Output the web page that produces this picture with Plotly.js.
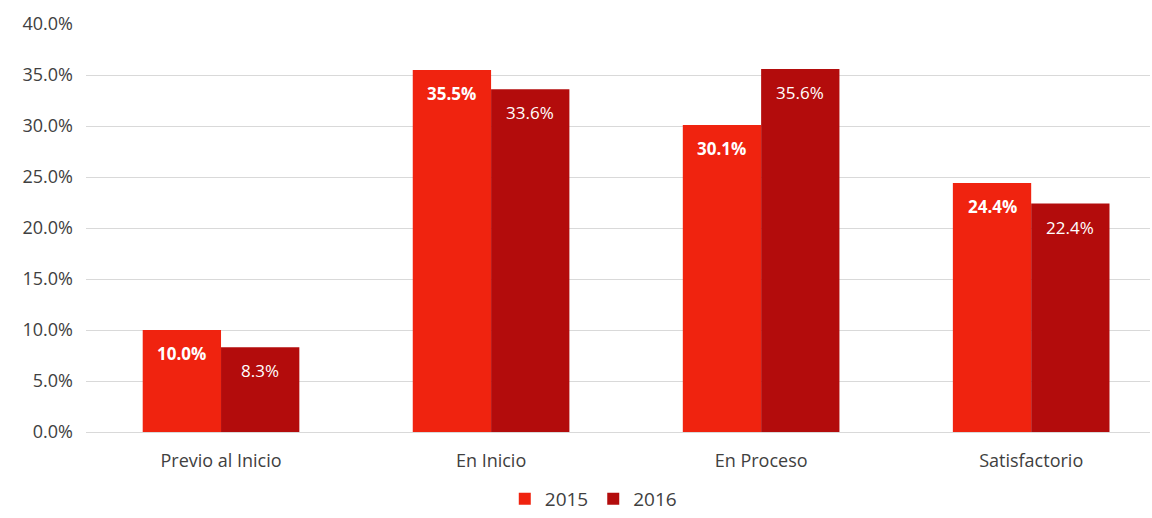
<!DOCTYPE html>
<html><head><meta charset="utf-8">
<script src="https://cdn.plot.ly/plotly-3.0.1.min.js"></script>
<style>html,body{margin:0;padding:0;background:#fff}</style>
</head><body>
<div id="chart" style="width:1152px;height:518px"></div>
<script>
var categories = ["Previo al Inicio", "En Inicio", "En Proceso", "Satisfactorio"];
var values2015 = [10.0, 35.5, 30.1, 24.4];
var values2016 = [8.3, 33.6, 35.6, 22.4];
var seriesNames = ["2015", "2016"];
var fontFam = "Open Sans, Liberation Sans, sans-serif";
var BW = 0.29;
function fmt(x){ return x.toFixed(1) + "%"; }
var t1 = {
  type: "bar", name: seriesNames[0], x: categories, y: values2015,
  offset: -BW, width: BW,
  marker: {color: "#f0230f"}, hoverinfo: "none"
};
var t2 = {
  type: "bar", name: seriesNames[1], x: categories, y: values2016,
  offset: 0, width: BW,
  marker: {color: "#b30c0c"}, hoverinfo: "none"
};
var annotations = [];
categories.forEach(function(c, i){
  annotations.push({x: i - BW/2, y: values2015[i], xref: "x", yref: "y",
    text: "<b>" + fmt(values2015[i]) + "</b>", showarrow: false, yanchor: "top", yshift: -10,
    font: {color: "#ffffff", size: 17, family: fontFam}});
  annotations.push({x: i + BW/2, y: values2016[i], xref: "x", yref: "y",
    text: fmt(values2016[i]), showarrow: false, yanchor: "top", yshift: -10,
    font: {color: "#ffffff", size: 17, family: fontFam}});
});
var layout = {
  width: 1152, height: 518,
  margin: {l: 86, r: 2, t: 24, b: 86},
  barmode: "overlay",
  font: {family: fontFam, color: "#404040", size: 15},
  paper_bgcolor: "#ffffff", plot_bgcolor: "#ffffff",
  annotations: annotations,
  xaxis: {
    type: "category", range: [-0.5, 3.44], showgrid: false, zeroline: false,
    showline: true, linecolor: "#d9d9d9", linewidth: 1,
    ticks: "", ticklabelstandoff: 12, tickfont: {size: 18, color: "#404040"}, automargin: false
  },
  yaxis: {
    range: [0, 40], dtick: 5, tickformat: ".1f", ticksuffix: "%",
    showgrid: true, gridcolor: "#d9d9d9", zeroline: false,
    ticklabelstandoff: 12,
    tickfont: {size: 18, color: "#404040"}, automargin: false
  },
  showlegend: true,
  legend: {orientation: "h", x: 0.515, xanchor: "center", xref: "container",
           y: 0, yanchor: "bottom", yref: "container",
           font: {size: 19, color: "#404040"}, itemwidth: 30, traceorder: "normal"}
};
Plotly.newPlot("chart", [t1, t2], layout, {displayModeBar: false, staticPlot: true});
</script>
</body></html>
